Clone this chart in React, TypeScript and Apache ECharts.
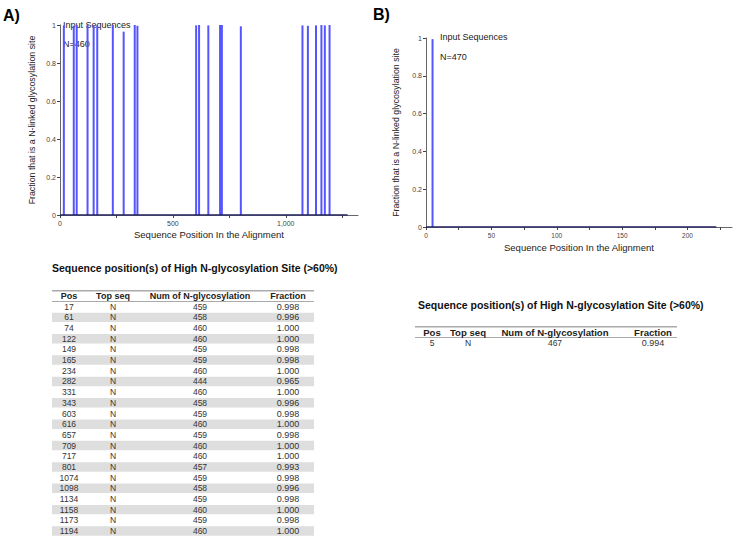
import React, { useEffect, useRef } from "react";
import * as echarts from "echarts";

// ---- Data: panel A ----
const A_POS = [17, 61, 74, 122, 149, 165, 234, 282, 331, 343, 603, 616, 657, 709, 717, 801, 1074, 1098, 1134, 1158, 1173, 1194];
const A_TOP = ["N", "N", "N", "N", "N", "N", "N", "N", "N", "N", "N", "N", "N", "N", "N", "N", "N", "N", "N", "N", "N", "N"];
const A_COUNT = [459, 458, 460, 460, 459, 459, 460, 444, 460, 458, 459, 460, 459, 460, 460, 457, 459, 458, 459, 460, 459, 460];
const A_FRAC = [0.998, 0.996, 1.0, 1.0, 0.998, 0.998, 1.0, 0.965, 1.0, 0.996, 0.998, 1.0, 0.998, 1.0, 1.0, 0.993, 0.998, 0.996, 0.998, 1.0, 0.998, 1.0];
const A_N = 460;
const A_LEN = 1274;
const A_X_TICKS = [0, 250, 500, 750, 1000, 1250];
const A_X_LABELS = [0, 500, 1000];

// ---- Data: panel B ----
const B_POS = [5];
const B_TOP = ["N"];
const B_COUNT = [467];
const B_FRAC = [0.994];
const B_N = 470;
const B_LEN = 222;
const B_X_TICKS = [0, 25, 50, 75, 100, 125, 150, 175, 200, 225];
const B_X_LABELS = [0, 50, 100, 150, 200];

const Y_TICKS = [0, 0.2, 0.4, 0.6, 0.8, 1];
const HEADERS = ["Pos", "Top seq", "Num of N-glycosylation", "Fraction"];
const TABLE_TITLE = "Sequence position(s) of High N-glycosylation Site (>60%)";
const X_NAME = "Sequence Position In the Alignment";
const Y_NAME = "Fraction that is a N-linked glycosylation site";

const FONT = "'Liberation Sans', Arial, sans-serif";
const BAR = "#5555ff";
const BASE = "#1e1e60";

function txt(x: number, y: number, text: string, o: any = {}) {
  return {
    type: "text",
    x,
    y,
    silent: true,
    style: {
      text,
      fontFamily: FONT,
      fontSize: o.size ?? 8.5,
      fontWeight: o.weight ?? "normal",
      fill: o.color ?? "#333",
      align: o.align ?? "center",
      verticalAlign: "middle",
    },
  };
}

function table(left: number, right: number, lineTop: number, cols: number[], rowH: number, hSize: number, pos: number[], top: string[], cnt: number[], frac: number[]) {
  const g: any[] = [];
  const firstRow = lineTop + 16;
  pos.forEach((p, i) => {
    const cy = firstRow + i * rowH;
    if (i % 2 === 1) {
      g.push({ type: "rect", silent: true, shape: { x: left, y: cy - rowH / 2 + 0.6, width: right - left, height: rowH - 1.2 }, style: { fill: "#dedede" } });
    }
    g.push(txt(cols[0], cy, String(p)));
    g.push(txt(cols[1], cy, top[i]));
    g.push(txt(cols[2], cy, String(cnt[i])));
    g.push(txt(cols[3], cy, frac[i].toFixed(3), { size: 9 }));
  });
  g.push({ type: "line", silent: true, shape: { x1: left, y1: lineTop, x2: right, y2: lineTop }, style: { stroke: "#aaa", lineWidth: 1.5 } });
  g.push({ type: "line", silent: true, shape: { x1: left, y1: lineTop + 10.8, x2: right, y2: lineTop + 10.8 }, style: { stroke: "#aaa", lineWidth: 1.2 } });
  HEADERS.forEach((h, i) => g.push(txt(cols[i], lineTop + 5.4, h, { weight: "bold", size: hSize, color: "#222" })));
  return g;
}

function axisPair(gi: number, max: number, ticks: number[], labels: number[], lblSize: number) {
  const x = {
    type: "value",
    gridIndex: gi,
    min: 0,
    max,
    name: X_NAME,
    nameLocation: "middle",
    nameGap: 14,
    nameTextStyle: { fontSize: 9.5, color: "#222", fontFamily: FONT },
    axisLine: { show: true, onZero: false, lineStyle: { color: "#666", width: 1 } },
    axisTick: { show: true, length: 3, customValues: ticks, lineStyle: { color: "#444" } },
    axisLabel: { customValues: labels, fontSize: lblSize, color: "#444", margin: 5, fontFamily: FONT },
    splitLine: { show: false },
  };
  const y = {
    type: "value",
    gridIndex: gi,
    min: 0,
    max: 1,
    name: Y_NAME,
    nameLocation: "middle",
    nameGap: 24,
    nameTextStyle: { fontSize: 8.8, color: "#222", fontFamily: FONT },
    axisLine: { show: true, lineStyle: { color: "#666", width: 1 } },
    axisTick: { show: true, length: 3, customValues: Y_TICKS, lineStyle: { color: "#444" } },
    axisLabel: { customValues: Y_TICKS, fontSize: 7, color: "#444", margin: 4, fontFamily: FONT },
    splitLine: { show: false },
  };
  return { x, y };
}

export default function App() {
  const ref = useRef<HTMLDivElement>(null);
  useEffect(() => {
    if (!ref.current) return;
    const chart = echarts.init(ref.current, null, { renderer: "svg" });
    const a = axisPair(0, 1320, A_X_TICKS, A_X_LABELS, 7);
    const b = axisPair(1, 234, B_X_TICKS, B_X_LABELS, 6.5);
    b.x.nameGap = 15;
    b.y.nameGap = 26;

    const graphic: any[] = [
      txt(3, 15, "A)", { size: 16, weight: "bold", color: "#000", align: "left" }),
      txt(373, 14, "B)", { size: 16, weight: "bold", color: "#000", align: "left" }),
      txt(63, 25, "Input Sequences", { size: 9, align: "left", color: "#222" }),
      txt(63, 44, "N=" + A_N, { size: 9, align: "left", color: "#222" }),
      txt(440, 37, "Input Sequences", { size: 9, align: "left", color: "#222" }),
      txt(440, 57, "N=" + B_N, { size: 9, align: "left", color: "#222" }),
      txt(52, 268, TABLE_TITLE, { size: 10.5, weight: "bold", align: "left", color: "#111" }),
      txt(418, 305, TABLE_TITLE, { size: 10.5, weight: "bold", align: "left", color: "#111" }),
      ...table(52, 314, 290.7, [69, 113, 200, 288], 10.68, 9, A_POS, A_TOP, A_COUNT, A_FRAC),
      ...table(415, 677, 326.7, [432, 468, 555, 653], 10.68, 9.6, B_POS, B_TOP, B_COUNT, B_FRAC),
    ];

    chart.setOption({
      animation: false,
      textStyle: { fontFamily: FONT },
      grid: [
        { left: 60, top: 25, width: 298, height: 190 },
        { left: 426, top: 38, width: 306, height: 189 },
      ],
      xAxis: [a.x, b.x],
      yAxis: [a.y, b.y],
      series: [
        {
          type: "line",
          xAxisIndex: 0,
          yAxisIndex: 0,
          data: [[0, 0], [A_LEN, 0]],
          symbol: "none",
          lineStyle: { color: BASE, width: 1.5 },
          silent: true,
          z: 3,
        },
        {
          type: "bar",
          xAxisIndex: 0,
          yAxisIndex: 0,
          barWidth: 2,
          data: A_POS.map((p, i) => [p, A_FRAC[i]]),
          itemStyle: { color: BAR },
          silent: true,
        },
        {
          type: "line",
          xAxisIndex: 1,
          yAxisIndex: 1,
          data: [[0, 0], [B_LEN, 0]],
          symbol: "none",
          lineStyle: { color: BASE, width: 1.5 },
          silent: true,
          z: 3,
        },
        {
          type: "bar",
          xAxisIndex: 1,
          yAxisIndex: 1,
          barWidth: 2,
          data: B_POS.map((p, i) => [p, B_FRAC[i]]),
          itemStyle: { color: BAR },
          silent: true,
        },
      ],
      graphic,
    });
    return () => chart.dispose();
  }, []);
  return <div ref={ref} style={{ position: "fixed", left: 0, top: 0, width: 733, height: 539, background: "#fff" }} />;
}
